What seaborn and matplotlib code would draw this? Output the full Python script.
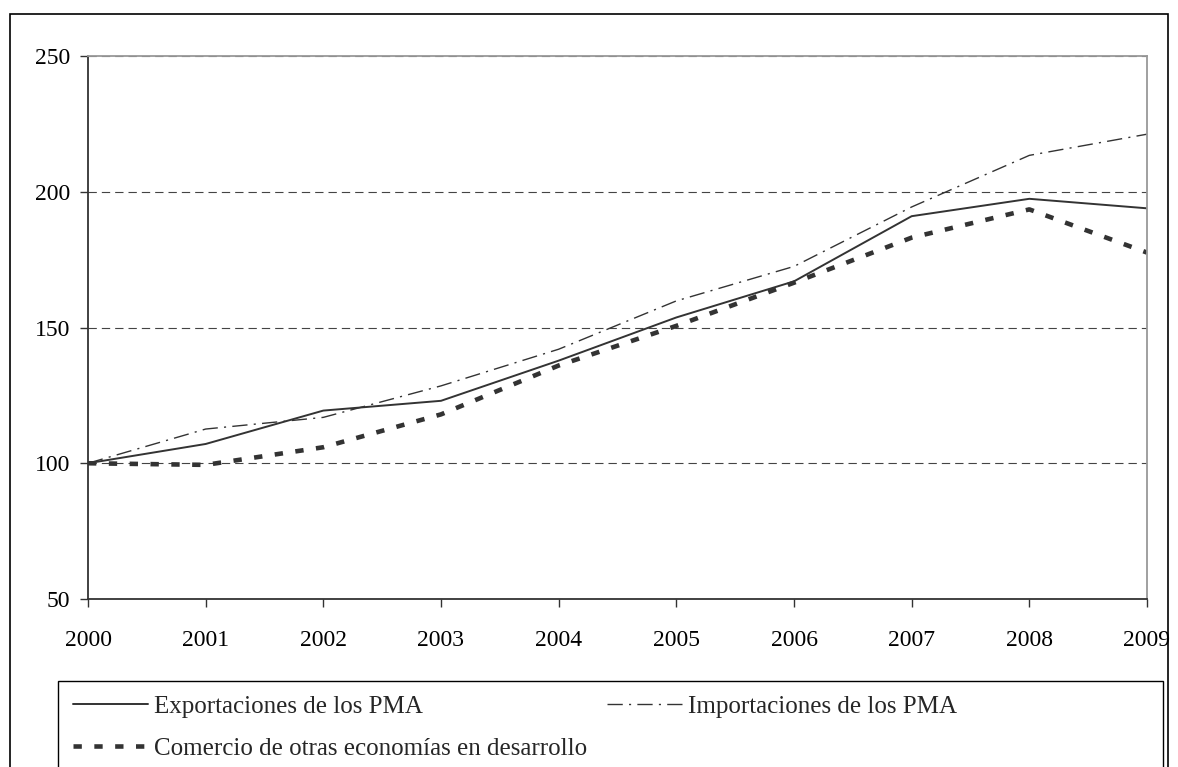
import numpy as np
import pandas as pd
import matplotlib
matplotlib.use("Agg")
import matplotlib.pyplot as plt
import seaborn as sns
from matplotlib.patches import Rectangle

# --- data (index, 2000 = 100) ---
years = [2000, 2001, 2002, 2003, 2004, 2005, 2006, 2007, 2008, 2009]
exportaciones = [100, 107.1, 119.4, 123.0, 137.8, 153.7, 167.0, 191.0, 197.4, 193.9]
importaciones = [100, 112.6, 116.9, 128.5, 142.0, 159.8, 172.5, 194.4, 213.4, 221.2]
comercio = [100, 99.4, 105.9, 118.0, 136.0, 150.6, 166.5, 183.1, 193.5, 177.6]
labels = ["Exportaciones de los PMA", "Importaciones de los PMA",
          "Comercio de otras economías en desarrollo"]
y_ticks = [50, 100, 150, 200, 250]

df = pd.DataFrame({"year": years, labels[0]: exportaciones,
                   labels[1]: importaciones, labels[2]: comercio})

sns.set_style("white")
plt.rcParams["font.family"] = ["Liberation Serif", "DejaVu Serif"]
plt.rcParams["lines.scale_dashes"] = False

W, H = 1178, 767
fig = plt.figure(figsize=(W / 100, H / 100), dpi=100)
ax = fig.add_axes([88 / W, 1 - 599 / H, (1147 - 88) / W, (599 - 56) / H])

line_col = "#333333"
sns.lineplot(data=df, x="year", y=labels[0], ax=ax, color=line_col,
             linewidth=1.4, linestyle="-", label=labels[0])
sns.lineplot(data=df, x="year", y=labels[1], ax=ax, color=line_col,
             linewidth=1.0, linestyle=(0, (11, 4.5, 1.5, 4.5)), label=labels[1])
sns.lineplot(data=df, x="year", y=labels[2], ax=ax, color=line_col,
             linewidth=3.3, linestyle=(0, (6, 9)), label=labels[2])

ax.set_xlim(2000, 2009)
ax.set_ylim(50, 250)
ax.set_xticks(years)
ax.set_xticklabels([str(y) for y in years])
ax.set_yticks(y_ticks)
ax.set_xlabel("")
ax.set_ylabel("")

ax.yaxis.grid(True, color="#444444", linestyle=(0, (6, 3.6)), linewidth=0.8)
ax.xaxis.grid(False)
ax.set_axisbelow(True)

for side in ["left", "bottom"]:
    ax.spines[side].set_color("#333333")
    ax.spines[side].set_linewidth(1.3)
for side in ["top", "right"]:
    ax.spines[side].set_color("#999999")
    ax.spines[side].set_linewidth(1.3)

ax.tick_params(axis="both", which="major", direction="out", length=6,
               width=1, color="#333333", labelsize=17, labelcolor="black")
ax.tick_params(axis="x", pad=16)
ax.tick_params(axis="y", pad=7)
ax.tick_params(left=True, bottom=True)

ax.get_legend().remove()
h, l = ax.get_legend_handles_labels()
order = [0, 2, 1]
fig.legend([h[i] for i in order], [l[i] for i in order], loc="upper left",
           bbox_to_anchor=(60 / W, 1 - 683 / H), ncol=2, frameon=False,
           fontsize=18, borderpad=0, handlelength=3.0, handletextpad=0.24,
           columnspacing=0.8, labelspacing=0.78)

# legend box and outer chart border (bottom is cut off by the image edge)
fig.patches.append(Rectangle((58 / W, -0.05), (1163 - 58) / W, (0.05 + 1 - 681 / H),
                             transform=fig.transFigure, fill=False,
                             edgecolor="black", linewidth=1.0))
fig.patches.append(Rectangle((10 / W, -0.05), (1168 - 10) / W, (0.05 + 1 - 14 / H),
                             transform=fig.transFigure, fill=False,
                             edgecolor="black", linewidth=1.2))

fig.savefig("out.png", dpi=100)
